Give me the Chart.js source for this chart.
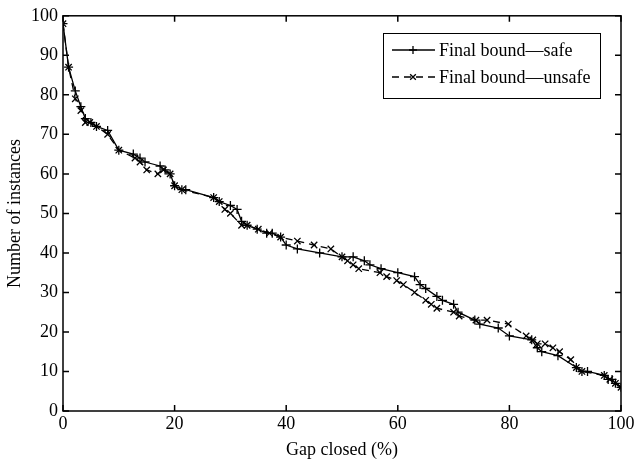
<!DOCTYPE html>
<html lang="en">
<head>
    <meta charset="UTF-8">
    <title>Gap closed</title>
    <script src="https://cdn.jsdelivr.net/npm/chart.js"></script>
    <style>
        html, body { margin: 0; padding: 0; background: #fff; }
        #wrap { width: 634px; height: 470px; position: relative; }
    </style>
</head>
<body>
    <div id="wrap"><canvas id="myChart"></canvas></div>
    <script>
        // values
        var safeX = [0, 1, 2.2, 3.2, 4, 5, 6, 8, 10, 12.6, 13.8, 14.7, 17.4, 18.3, 19.2, 20, 21.3, 22, 27, 28, 30, 31.2, 32, 33, 34.8, 36.5, 37.5, 39, 40, 42, 46, 50, 52, 54, 55, 57, 60, 63, 64, 65, 67, 68, 70, 70.8, 73.8, 74.7, 78, 80, 84, 85, 85.8, 88.7, 92, 93, 94, 97, 97.7, 98.4, 99, 100];
        var safeY = [98, 87, 81, 77, 74, 73, 72, 71, 66, 65, 64, 63, 62, 61, 60, 57, 56, 56, 54, 53, 52, 51, 48, 47, 46, 45, 45, 44, 42, 41, 40, 39, 39, 38, 37, 36, 35, 34, 32, 31, 29, 28, 27, 25, 23, 22, 21, 19, 18, 16, 15, 14, 11, 10, 10, 9, 8, 8, 7, 6];

        var unsafeX = [0, 1, 2.2, 3.2, 4, 4.8, 6, 8, 10, 12.9, 13.8, 15, 17, 18, 19.2, 20, 21.3, 27, 28, 29, 30, 32, 33, 35, 37, 39, 42, 45, 48, 50, 51, 52, 53, 56.8, 58, 59.8, 61, 63, 65, 66, 67, 70, 71, 74, 76, 79.8, 83, 84.2, 85, 86.4, 87.8, 89, 91, 92, 93, 97, 98, 99, 100];
        var unsafeY = [98, 87, 79, 76, 73, 73, 72, 70, 66, 64, 63, 61, 60, 61, 60, 57, 56, 54, 53, 51, 50, 47, 47, 46, 45, 44, 43, 42, 41, 39, 38, 37, 36, 35, 34, 33, 32, 30, 28, 27, 26, 25, 24, 23, 23, 22, 19, 18, 17, 17, 16, 15, 13, 11, 10, 9, 8, 7, 6];

        var xTicks = [0, 20, 40, 60, 80, 100];
        var yTicks = [0, 10, 20, 30, 40, 50, 60, 70, 80, 90, 100];
        var seriesNames = ['Final bound\u2014safe', 'Final bound\u2014unsafe'];

        var serif = '"Liberation Serif", "Times New Roman", serif';

        function toPoints(xs, ys) {
            var pts = [];
            for (var i = 0; i < xs.length; i++) {
                pts.push({x: xs[i], y: ys[i]});
            }
            return pts;
        }

        // box, inward ticks on all four sides, and the legend
        var frame = {
            id: 'frame',
            afterDraw: function(chart) {
                var ctx = chart.ctx;
                var a = chart.chartArea;
                var sx = chart.scales.x, sy = chart.scales.y;
                var len = 6;
                ctx.save();
                ctx.strokeStyle = '#000';
                ctx.lineWidth = 1.5;
                ctx.strokeRect(a.left, a.top, a.right - a.left, a.bottom - a.top);
                ctx.beginPath();
                xTicks.forEach(function(v) {
                    var px = sx.getPixelForValue(v);
                    ctx.moveTo(px, a.bottom); ctx.lineTo(px, a.bottom - len);
                    ctx.moveTo(px, a.top); ctx.lineTo(px, a.top + len);
                });
                yTicks.forEach(function(v) {
                    var py = sy.getPixelForValue(v);
                    ctx.moveTo(a.left, py); ctx.lineTo(a.left + len, py);
                    ctx.moveTo(a.right, py); ctx.lineTo(a.right - len, py);
                });
                ctx.stroke();

                // legend
                var bx = 383, by = 33, bw = 217, bh = 65;
                ctx.fillStyle = '#fff';
                ctx.fillRect(bx, by, bw, bh);
                ctx.lineWidth = 1;
                ctx.strokeRect(bx + 0.5, by + 0.5, bw, bh);
                ctx.font = '18px ' + serif;
                ctx.textBaseline = 'middle';
                ctx.fillStyle = '#000';
                chart.data.datasets.forEach(function(ds, i) {
                    var ry = by + 17 + i * 27;
                    ctx.lineWidth = 1.3;
                    ctx.setLineDash(ds.borderDash || []);
                    ctx.beginPath();
                    ctx.moveTo(bx + 9, ry);
                    ctx.lineTo(bx + 52, ry);
                    ctx.stroke();
                    ctx.setLineDash([]);
                    Chart.helpers.drawPoint(ctx, {pointStyle: ds.pointStyle, radius: 4, rotation: 0, borderWidth: 1.3}, bx + 30, ry);
                    ctx.fillText(seriesNames[i], bx + 56, ry + 1);
                });
                ctx.restore();
            }
        };

        var ctx = document.getElementById('myChart').getContext('2d');
        var myChart = new Chart(ctx, {
            type: 'line',
            data: {
                datasets: [
                    {
                        label: seriesNames[0],
                        data: toPoints(safeX, safeY),
                        borderColor: '#000',
                        backgroundColor: '#000',
                        borderWidth: 1.3,
                        pointStyle: 'cross',
                        pointRadius: 4.5,
                        pointBorderWidth: 1.3,
                        pointBorderColor: '#000',
                        tension: 0
                    },
                    {
                        label: seriesNames[1],
                        data: toPoints(unsafeX, unsafeY),
                        borderColor: '#000',
                        backgroundColor: '#000',
                        borderWidth: 1.3,
                        borderDash: [7, 5],
                        pointStyle: 'crossRot',
                        pointRadius: 4.5,
                        pointBorderWidth: 1.3,
                        pointBorderColor: '#000',
                        tension: 0
                    }
                ]
            },
            options: {
                responsive: true,
                maintainAspectRatio: false,
                animation: false,
                layout: { padding: { top: 15, right: 0, left: 0, bottom: 0 } },
                plugins: {
                    legend: { display: false },
                    tooltip: { enabled: false }
                },
                scales: {
                    x: {
                        type: 'linear',
                        min: 0,
                        max: 100,
                        grid: { display: false, drawTicks: false },
                        border: { display: false },
                        afterBuildTicks: function(scale) {
                            scale.ticks = xTicks.map(function(v) { return {value: v}; });
                        },
                        afterFit: function(scale) {
                            scale.height = 59;
                            scale.paddingRight = 13;
                        },
                        ticks: {
                            color: '#000',
                            padding: 2,
                            maxRotation: 0,
                            font: { family: serif, size: 18 }
                        },
                        title: {
                            display: true,
                            text: 'Gap closed (%)',
                            color: '#000',
                            padding: { top: 4, bottom: 9 },
                            font: { family: serif, size: 18 }
                        }
                    },
                    y: {
                        min: 0,
                        max: 100,
                        grid: { display: false, drawTicks: false },
                        border: { display: false },
                        afterBuildTicks: function(scale) {
                            scale.ticks = yTicks.map(function(v) { return {value: v}; });
                        },
                        afterFit: function(scale) { scale.width = 63; },
                        ticks: {
                            color: '#000',
                            padding: 5,
                            font: { family: serif, size: 18 }
                        },
                        title: {
                            display: true,
                            text: 'Number of instances',
                            color: '#000',
                            padding: { top: 4, bottom: 4 },
                            font: { family: serif, size: 18 }
                        }
                    }
                }
            },
            plugins: [frame]
        });
    </script>
</body>
</html>
